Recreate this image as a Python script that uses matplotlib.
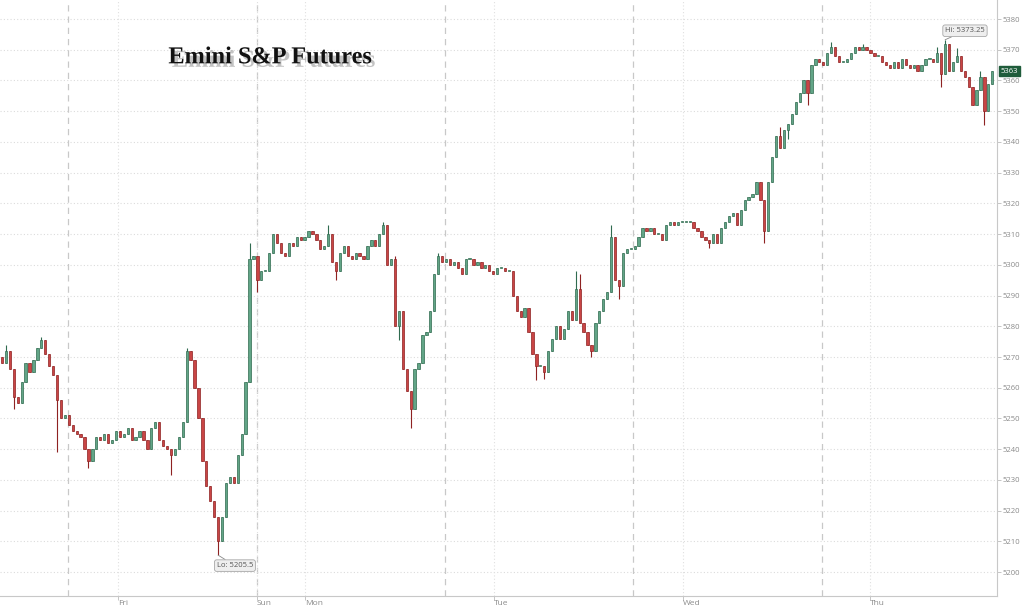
import matplotlib
matplotlib.use("Agg")
import matplotlib.pyplot as plt
import matplotlib.patheffects as pe
import numpy as np

# 30-minute bars, Emini S&P futures
first_open = 5270
closes = [
    5268, 5272, 5266, 5257, 5255, 5262, 5268, 5265, 5269, 5273,
    5275.5, 5271, 5267, 5264, 5256, 5250, 5251, 5248, 5246, 5245,
    5244, 5240, 5236, 5240, 5244, 5243, 5245, 5242, 5243, 5246,
    5244, 5245, 5247, 5243, 5244, 5246, 5243, 5240, 5247, 5249,
    5243, 5241, 5240, 5238, 5240, 5244, 5249, 5272, 5269, 5260,
    5250, 5236, 5228, 5223, 5218, 5210, 5218, 5229, 5231, 5229,
    5238, 5245, 5262, 5302, 5303, 5295, 5298, 5298, 5304, 5310,
    5307, 5304, 5303, 5307, 5306, 5309, 5308, 5309, 5311, 5310,
    5308, 5305, 5306, 5310, 5301, 5298, 5304, 5306, 5303, 5302,
    5304, 5303, 5302, 5306, 5308, 5306, 5310, 5313, 5300, 5302,
    5280, 5285, 5266, 5259, 5253, 5266, 5268, 5277, 5278, 5285,
    5297, 5303, 5301, 5302, 5300, 5301, 5299, 5297, 5302, 5302,
    5300, 5301, 5299, 5300, 5298, 5297, 5299, 5299, 5298, 5298,
    5290, 5285, 5283, 5286, 5278, 5271, 5267, 5267, 5265, 5272,
    5276, 5280, 5276, 5279, 5285, 5282, 5292, 5281, 5278, 5274,
    5272, 5281, 5285, 5289, 5291, 5309, 5295, 5293, 5304, 5305,
    5305, 5306, 5309, 5312, 5311, 5312, 5310, 5310, 5308, 5313,
    5314, 5313, 5314, 5314, 5314, 5314, 5312, 5311, 5309, 5308,
    5307, 5310, 5307, 5312, 5314, 5316, 5317, 5313, 5318, 5321,
    5322, 5323, 5327, 5321, 5311, 5327, 5335, 5342, 5338, 5344,
    5346, 5349, 5353, 5356, 5360, 5356, 5365, 5367, 5366, 5365,
    5369, 5371, 5368, 5366, 5366, 5367, 5369, 5371, 5370, 5371,
    5370, 5369, 5368, 5368, 5366, 5365, 5364, 5366, 5364, 5367,
    5365, 5364, 5365, 5363, 5365, 5367, 5367, 5366, 5369, 5362,
    5372, 5363, 5366, 5368, 5363, 5361, 5358, 5352, 5357, 5361,
    5350, 5359, 5363,
]
# wick extremes that stick out of the bodies
high_wicks = {1: 5274, 10: 5276.5, 47: 5273, 63: 5307, 83: 5313, 97: 5314,
              100: 5303, 111: 5304, 146: 5298, 147: 5297, 155: 5313,
              198: 5345, 211: 5372.5, 219: 5372, 238: 5371, 240: 5373.25,
              243: 5370.5, 249: 5363}
low_wicks = {3: 5253, 14: 5239, 22: 5234, 43: 5231.5, 55: 5205.5, 65: 5291,
             85: 5295, 101: 5275.5, 104: 5247, 136: 5262.5, 138: 5263,
             150: 5270, 157: 5289, 180: 5305.5, 194: 5307, 200: 5341,
             205: 5352, 239: 5358, 250: 5345.5}

session_breaks = [16.8, 64.9, 112.7, 160.6, 208.7]
day_ticks = [29.5, 64.9, 77.1, 125.2, 173.3, 220.9]
day_labels = ["Fri", "Sun", "Mon", "Tue", "Wed", "Thu"]
price_ticks = list(range(5200, 5381, 10))

closes = np.array(closes, dtype=float)
opens = np.concatenate([[first_open], closes[:-1]])
highs = np.maximum(opens, closes)
lows = np.minimum(opens, closes)
for k, v in high_wicks.items():
    highs[k] = max(highs[k], v)
for k, v in low_wicks.items():
    lows[k] = min(lows[k], v)
idx = np.arange(len(closes))

up_col, up_edge = "#62a587", "#2f6b4f"
dn_col, dn_edge = "#c94545", "#8e2222"

fig = plt.figure(figsize=(10.24, 6.09), dpi=100)
ax = fig.add_axes([0.0, 0.0213, 0.9736, 0.9787])

up = closes >= opens
cols = np.where(up, up_col, dn_col)
edges = np.where(up, up_edge, dn_edge)
ax.vlines(idx, lows, highs, colors=edges, linewidth=0.8, zorder=3)
body_h = np.maximum(np.abs(closes - opens), 0.35)
ax.bar(idx, body_h, bottom=np.minimum(opens, closes), width=0.58,
       color=cols, edgecolor=edges, linewidth=0.5, zorder=4)

ax.set_xlim(-0.51, 253.2)
ax.set_ylim(5192.2, 5386.2)

for p in price_ticks:
    ax.axhline(p, color="#dcdcdc", linestyle=(0, (1, 2)), linewidth=0.8, zorder=1)
for b in session_breaks:
    ax.axvline(b, color="#c8c8c8", linestyle=(0, (5, 4)), linewidth=0.9, zorder=1)
for t in day_ticks:
    ax.axvline(t, color="#e0e0e0", linestyle=(0, (1, 2)), linewidth=0.8, zorder=1)

ax.yaxis.tick_right()
ax.set_yticks(price_ticks)
ax.set_yticklabels([str(p) for p in price_ticks], fontsize=5.5, color="#8a8a8a",
                   family="Open Sans")
ax.tick_params(axis="y", length=3, width=0.6, color="#bbbbbb", pad=1)
ax.set_xticks(day_ticks)
ax.set_xticklabels(day_labels, fontsize=6, color="#8a8a8a", family="Open Sans",
                   ha="left")
ax.tick_params(axis="x", length=3, width=0.6, color="#bbbbbb", pad=0)

for s in ["top", "left"]:
    ax.spines[s].set_visible(False)
for s in ["right", "bottom"]:
    ax.spines[s].set_color("#c8c8c8")
    ax.spines[s].set_linewidth(0.8)

# title with drop shadow
ax.text(0.271, 0.903, "Emini S&P Futures", transform=ax.transAxes,
        ha="center", va="center", fontsize=17.5, fontweight="bold",
        family="Liberation Serif", color="#111111", zorder=6,
        path_effects=[pe.withSimplePatchShadow(offset=(2.5, -2.5),
                                               shadow_rgbFace="#888888",
                                               alpha=0.5)])

# hi / lo labels
hi_i = int(np.argmax(highs))
lo_i = int(np.argmin(lows))
box = dict(boxstyle="round,pad=0.3,rounding_size=0.3", fc="#eeeeee",
           ec="#a8a8a8", lw=0.6)
ax.annotate(f"Hi: {highs[hi_i]:g}", xy=(hi_i, highs[hi_i]),
            xytext=(0, 4), textcoords="offset points", ha="left", va="bottom",
            fontsize=5.5, color="#555555", family="Open Sans", bbox=box,
            arrowprops=dict(arrowstyle="-", color="#888888", lw=0.6,
                            shrinkA=0, shrinkB=0), zorder=7)
ax.annotate(f"Lo: {lows[lo_i]:g}", xy=(lo_i, lows[lo_i]),
            xytext=(-1, -5), textcoords="offset points", ha="left", va="top",
            fontsize=5.5, color="#555555", family="Open Sans", bbox=box,
            arrowprops=dict(arrowstyle="-", color="#888888", lw=0.6,
                            shrinkA=0, shrinkB=0), zorder=7)

# last price tag on the axis
ax.text(1.004, closes[-1], f"{closes[-1]:.0f}", transform=ax.get_yaxis_transform(),
        ha="left", va="center", fontsize=5.5, color="white", family="Open Sans",
        bbox=dict(boxstyle="square,pad=0.2", fc="#1f5c3b", ec="#1f5c3b"),
        clip_on=False, zorder=8)

fig.savefig("out.png", dpi=100)
